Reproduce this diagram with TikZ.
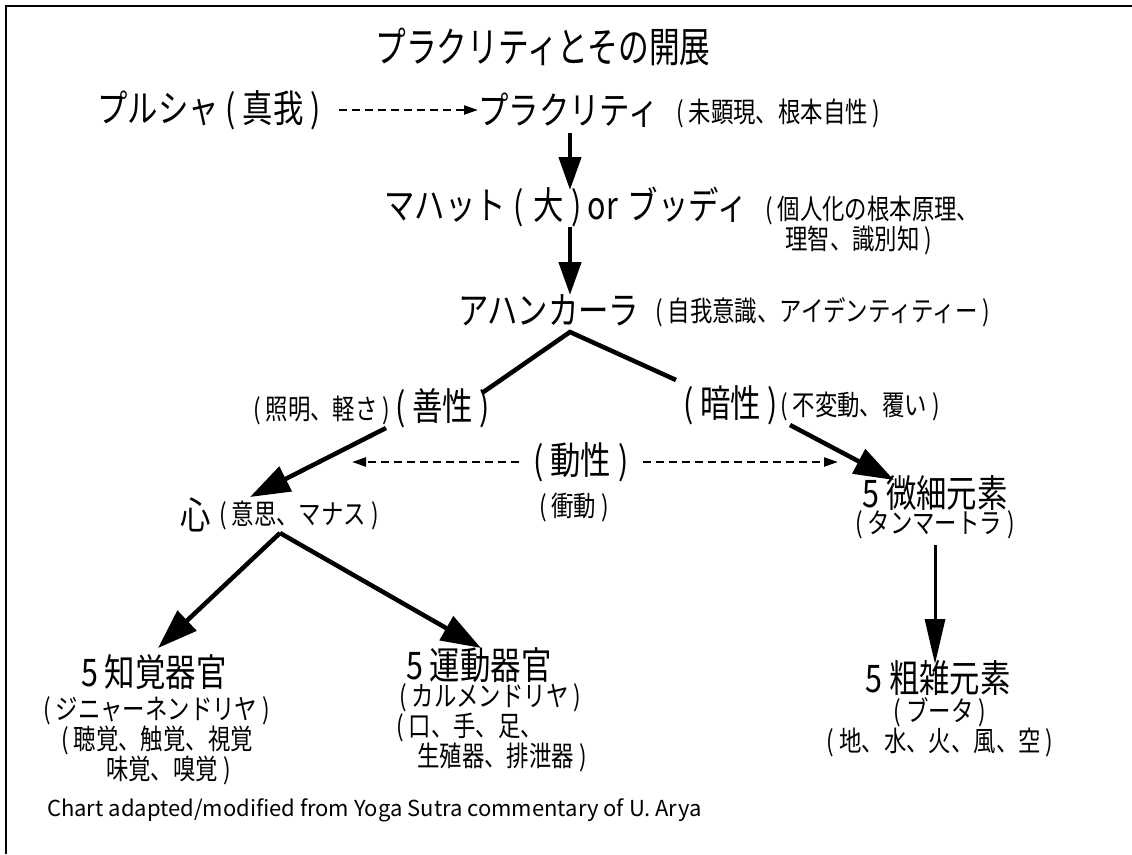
\documentclass[tikz,border=0pt]{standalone}
\usepackage{fontspec}
\setmainfont{Noto Sans CJK JP}
\newfontfamily\jpcond{Noto Sans CJK JP}[FakeStretch=0.8]
\newfontfamily\jptitle{Noto Sans CJK JP}[FakeStretch=0.74]
\usetikzlibrary{arrows.meta}
\newcommand\jpTitle{\jptitle\fontsize{41.5}{44}\selectfont}
\newcommand\jpLarge{\jpcond\fontsize{38}{40}\selectfont}
\newcommand\jpSmall{\jpcond\fontsize{28}{30}\selectfont}
\tikzset{
  big/.style={inner sep=0pt, font=\jpLarge},
  note/.style={inner sep=0pt, font=\jpSmall, align=left},
  solidarrow/.style={line width=4.5pt, -{Triangle[length=33pt,width=22pt]}},
  diagarrow/.style={line width=4.5pt, -{Triangle[length=40pt,width=27pt]}},
  thinarrow/.style={line width=3pt, -{Triangle[length=45pt,width=20pt]}},
  branch/.style={line width=4.5pt, line cap=butt},
  dasharrow/.style={line width=2.2pt, dash pattern=on 8pt off 5pt, -{Triangle[length=14pt,width=9pt]}},
  frame/.style={line width=2.5pt}
}
\begin{document}
\begin{tikzpicture}[x=1pt,y=-1pt]
\useasboundingbox (0,0) rectangle (1132,854);
% frame (top and left edges)
\draw[frame] (6,854) -- (6,6) -- (1132,6);

% title
\node[inner sep=0pt, font=\jpTitle] (title) at (543,47) {プラクリティとその開展};

% row 2
\node[big, anchor=west] (puru) at (97,110) {プルシャ ( 真我 )};
\node[big, anchor=west] (prak) at (478,110) {プラクリティ};
\node[note, anchor=west] (prakn) at (676,113) {( 未顕現、根本自性 )};
\draw[dasharrow] ([xshift=18pt]puru.east) -- (prak.west);

% row 3
\node[big, anchor=west] (mahat) at (384,207) {マハット\hspace{8pt}(\hspace{9pt}大\hspace{8pt})\hspace{6pt}or\hspace{10pt}ブッディ};
\node[note, anchor=west] (mahatn) at (765,225) {( 個人化の根本原理、\\\hspace{20pt}理智、識別知 )};
\coordinate (a1s) at (570,133);
\coordinate (a1e) at (570,190);
\draw[solidarrow] (a1s) -- (a1e);

% row 4
\node[big, anchor=west] (ahan) at (458,310) {アハンカーラ};
\node[note, anchor=west] (ahann) at (655,312) {( 自我意識、アイデンティティー )};
\coordinate (a2s) at (570,227);
\coordinate (a2e) at (570,295);
\draw[solidarrow] (a2s) -- (a2e);

% gunas
\coordinate (apex) at (570,332);
\coordinate (brL) at (482,393);
\coordinate (brR) at (676,380);
\draw[branch] (brL) -- (apex) -- (brR);

\node[note, anchor=west] (shoumei) at (253,410) {( 照明、軽さ )};
\node[big, anchor=west] (zensei) at (395,408) {( 善性 )};
\node[big, anchor=west] (ansei) at (683,405) {( 暗性 )};
\node[note, anchor=west] (fuhen) at (780,406) {( 不変動、覆い )};

\node[big] (dousei) at (581,462) {( 動性 )};
\node[note] (shoudou) at (574,507) {( 衝動 )};

% manas
\node[big, anchor=west] (kokoro) at (180,515) {心};
\node[note, anchor=west] (kokoron) at (219,515) {( 意思、マナス )};

% tanmatra
\node[big] (bisai) at (935,493) {5 微細元素};
\node[note] (bisain) at (935,525) {( タンマートラ )};

% connectors of the gunas
\coordinate (zs) at (386,428);
\coordinate (ze) at (250,497);
\draw[diagarrow] (zs) -- (ze);
\coordinate (as) at (790,425);
\coordinate (ae) at (894,480);
\draw[diagarrow] (as) -- (ae);
\coordinate (dl) at (352,462);
\coordinate (dr) at (838,462);
\draw[dasharrow] ([xshift=-14pt]dousei.west) -- (dl);
\draw[dasharrow] ([xshift=14pt]dousei.east) -- (dr);

% bottom row
\node[big, anchor=west] (chikaku) at (81,672) {5 知覚器官};
\node[note, anchor=west] (chikakun) at (43,741) {( ジニャーネンドリヤ )\\\hspace{18pt}( 聴覚、触覚、視覚\\\hspace{63pt}味覚、嗅覚 )};
\node[big, anchor=west] (undou) at (406,665) {5 運動器官};
\node[note, anchor=west] (undoun) at (396,728) {\hspace{3pt}( カルメンドリヤ )\\( 口、手、足、\\\hspace{21pt}生殖器、排泄器 )};
\node[big] (sozatsu) at (938,678) {5 粗雑元素};
\node[note, align=center] (sozatsun) at (940,727) {( ブータ )\\( 地、水、火、風、空 )};

\coordinate (kapex) at (280,533);
\coordinate (kl) at (158,648);
\coordinate (kr) at (481,648);
\draw[diagarrow] (kapex) -- (kl);
\draw[diagarrow] (kapex) -- (kr);
\coordinate (bs) at (935,545);
\coordinate (be) at (935,664);
\draw[thinarrow] (bs) -- (be);

% footer
\node[inner sep=0pt, anchor=west, font=\fontsize{22}{24}\selectfont] (footer) at (47,810) {Chart adapted/modified from Yoga Sutra commentary of U. Arya};
\end{tikzpicture}
\end{document}
